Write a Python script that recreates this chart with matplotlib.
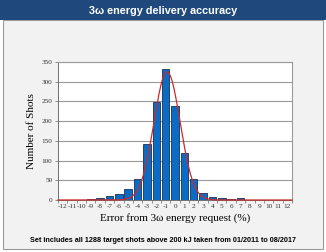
import numpy as np
import matplotlib
matplotlib.use("Agg")
import matplotlib.pyplot as plt
from matplotlib.patches import Rectangle

plt.rcParams["axes.unicode_minus"] = False

# histogram of energy error, one bin per percent
error_pct = [-12, -11, -10, -9, -8, -7, -6, -5, -4, -3, -2, -1, 0,
             1, 2, 3, 4, 5, 6, 7, 8, 9, 10, 11, 12]
n_shots = [0, 0, 1, 2, 5, 11, 15, 28, 52, 142, 248, 331, 238,
           120, 52, 17, 8, 4, 2, 5, 0, 0, 1, 0, 0]

# gaussian fit drawn over the bars (peak, centre, width)
fit_peak = 325.0
fit_mu = -0.85
fit_sigma = 1.4

y_ticks = [0, 50, 100, 150, 200, 250, 300, 350]

W, H = 326, 252
fig = plt.figure(figsize=(W / 100, H / 100), dpi=100)
fig.patch.set_facecolor("white")

# grey panel and title banner
fig.patches.append(Rectangle((3 / W, 3 / H), 320 / W, 229 / H,
                             transform=fig.transFigure, facecolor="#f2f2f2",
                             edgecolor="#9a9a9a", lw=0.8, zorder=-2))
fig.patches.append(Rectangle((0, 1 - 20 / H), 1, 20 / H,
                             transform=fig.transFigure, facecolor="#1f497d",
                             edgecolor="none", zorder=-1))
fig.text(0.5, 1 - 10.5 / H, "3\u03c9 energy delivery accuracy", color="white",
         fontsize=7.8, fontweight="bold", family="Liberation Sans",
         ha="center", va="center")

ax = fig.add_axes([58 / W, 52 / H, 234 / W, 138 / H])
ax.set_zorder(2)
ax.set_facecolor("white")

ax.bar(error_pct, n_shots, width=0.8, color="#0a6cc4", edgecolor="#1c2f55",
       lw=0.6, zorder=3)

xs = np.linspace(-12.5, 12.5, 400)
ax.plot(xs, fit_peak * np.exp(-(xs - fit_mu) ** 2 / (2 * fit_sigma ** 2)),
        color="#cc2a2a", lw=0.9, zorder=4, clip_on=False)

ax.set_xlim(-12.5, 12.5)
ax.set_ylim(0, 350)
ax.set_yticks(y_ticks)
ax.set_xticks(error_pct)
ax.set_xticks(np.arange(-12.5, 13, 1.0), minor=True)
ax.tick_params(axis="x", which="major", length=0, pad=3, labelsize=5.2)
ax.tick_params(axis="x", which="minor", length=2, width=0.5, color="#666666")
ax.tick_params(axis="y", length=2, width=0.5, color="#666666", pad=2,
               labelsize=5.2)
for lab in ax.get_xticklabels() + ax.get_yticklabels():
    lab.set_family("Liberation Serif")
    lab.set_color("#333333")

ax.yaxis.grid(True, color="#999999", lw=0.8, zorder=0)
ax.set_axisbelow(True)
for side in ["top", "right"]:
    ax.spines[side].set_color("#999999")
    ax.spines[side].set_linewidth(0.8)
ax.spines["left"].set_color("#707070")
ax.spines["left"].set_linewidth(0.7)
ax.spines["bottom"].set_color("#707070")
ax.spines["bottom"].set_linewidth(0.7)

ax.set_ylabel("Number of Shots", family="Liberation Serif", fontsize=8,
              labelpad=4)
ax.set_xlabel("Error from 3\u03c9 energy request (%)",
              family="Liberation Serif", fontsize=8, labelpad=3)

fig.text(0.5, 1 - 240 / H,
         "Set includes all 1288 target shots above 200 kJ taken from 01/2011 to 08/2017",
         fontsize=5.2, fontweight="bold", family="Liberation Sans",
         ha="center", va="center")

fig.savefig("out.png", dpi=100)
